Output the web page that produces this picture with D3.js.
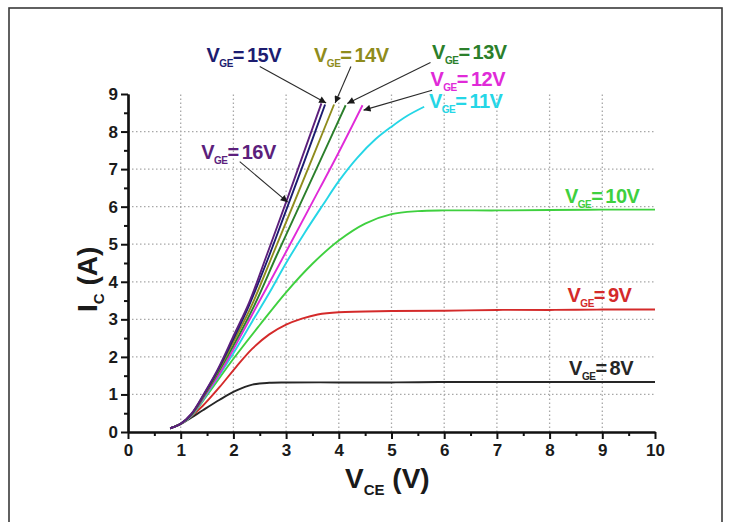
<!DOCTYPE html>
<html>
<head>
<meta charset="utf-8">
<script src="https://cdn.jsdelivr.net/npm/d3@7"></script>
<style>
    body { margin: 0; background: #fff; }
    svg { display: block; font-family: 'Liberation Sans', Arial, sans-serif; }
</style>
</head>
<body>
<div id="chart"></div>
<script>
// gate voltages and the I_C(V_CE) curve read for each one
let gateVoltages = [8, 9, 10, 11, 12, 13, 14, 15, 16];

let curve8 = [[0.8, 0.1], [1.0, 0.21], [1.2, 0.38], [1.42, 0.58], [1.74, 0.86], [2.05, 1.1], [2.36, 1.26],
    [2.68, 1.31], [3.0, 1.32], [4, 1.32], [5, 1.32], [6, 1.33], [7, 1.33], [8, 1.33], [9, 1.33], [10, 1.33]];
let curve9 = [[0.8, 0.1], [1.0, 0.22], [1.2, 0.42], [1.42, 0.7], [1.74, 1.2], [2.05, 1.73], [2.36, 2.22],
    [2.68, 2.6], [3.0, 2.86], [3.3, 3.02], [3.6, 3.13], [4.0, 3.19], [5, 3.22], [6, 3.23], [7, 3.25],
    [8, 3.25], [9, 3.26], [10, 3.26]];
let curve10 = [[0.8, 0.1], [1.0, 0.22], [1.2, 0.42], [1.5, 0.98], [2.0, 1.95], [2.5, 2.85], [3.0, 3.72],
    [3.5, 4.48], [4.0, 5.1], [4.5, 5.55], [5.0, 5.8], [5.5, 5.88], [6, 5.9], [7, 5.9], [8, 5.91],
    [9, 5.92], [10, 5.92]];
let curve11 = [[0.8, 0.1], [1.0, 0.22], [1.2, 0.43], [1.5, 1.02], [2.0, 2.1], [2.36, 2.95], [2.68, 3.7],
    [3.0, 4.5], [3.35, 5.3], [3.7, 6.05], [4.0, 6.68], [4.35, 7.3], [4.7, 7.8], [5.0, 8.13],
    [5.3, 8.42], [5.62, 8.66]];
let curve12 = [[0.8, 0.1], [1.0, 0.22], [1.2, 0.44], [1.5, 1.05], [1.75, 1.58], [2.0, 2.2], [2.5, 3.5],
    [3.0, 4.8], [3.5, 6.12], [4.0, 7.45], [4.45, 8.7]];
let curve13 = [[0.8, 0.1], [1.0, 0.22], [1.2, 0.45], [1.45, 0.98], [1.7, 1.55], [2.0, 2.3], [2.4, 3.38],
    [2.82, 4.7], [3.2, 5.86], [3.65, 7.23], [4.13, 8.7]];
let curve14 = [[0.8, 0.1], [1.0, 0.22], [1.2, 0.46], [1.45, 1.0], [1.7, 1.6], [2.0, 2.4], [2.35, 3.38],
    [2.74, 4.7], [3.1, 5.93], [3.5, 7.3], [3.91, 8.72]];
let curve15 = [[0.8, 0.1], [1.0, 0.22], [1.2, 0.47], [1.45, 1.02], [1.7, 1.63], [2.0, 2.48], [2.3, 3.38],
    [2.68, 4.7], [3.0, 5.9], [3.35, 7.22], [3.74, 8.72]];
let curve16 = [[0.8, 0.1], [1.0, 0.22], [1.2, 0.48], [1.45, 1.04], [1.7, 1.66], [2.0, 2.55], [2.3, 3.45],
    [2.63, 4.7], [3.0, 6.12], [3.3, 7.3], [3.67, 8.75]];

let xTicks = [0, 1, 2, 3, 4, 5, 6, 7, 8, 9, 10];
let yTicks = [0, 1, 2, 3, 4, 5, 6, 7, 8, 9];

// where each label sits and where its arrow points, in data units
let labelSpots = {
    16: { text: [1.39, 7.26], from: [2.12, 7.2], tip: [3.03, 6.12] },
    15: { text: [1.49, 9.84], from: [2.5, 9.73], tip: [3.76, 8.76] },
    14: { text: [3.53, 9.84], from: [4.23, 9.73], tip: [3.93, 8.76] },
    13: { text: [5.77, 9.92], from: [5.74, 9.84], tip: [4.16, 8.75] },
    12: { text: [5.74, 9.21], from: [5.77, 9.1], tip: [4.47, 8.57] },
    11: { text: [5.71, 8.62] },
    10: { text: [8.29, 6.11] },
    9: { text: [8.34, 3.45] },
    8: { text: [8.37, 1.51] },
};

let colors = {
    8: '#262626', 9: '#d42a2a', 10: '#3fd03f', 11: '#25d6e6', 12: '#e02ad8',
    13: '#2b7f2b', 14: '#8f8c1c', 15: '#1c1c70', 16: '#5c1f7c',
};

let curves = { 8: curve8, 9: curve9, 10: curve10, 11: curve11, 12: curve12,
    13: curve13, 14: curve14, 15: curve15, 16: curve16 };

let width = 731;
let height = 522;
let margin = { top: 94, right: 74, bottom: 90, left: 128 };

let svg = d3.select('#chart')
    .append('svg')
    .attr('width', width)
    .attr('height', height);

svg.append('rect')
    .attr('x', 9)
    .attr('y', 8)
    .attr('width', 713)
    .attr('height', 540)
    .attr('fill', 'none')
    .attr('stroke', '#3a3a3a')
    .attr('stroke-width', 1.6);

let xScale = d3.scaleLinear().domain([0, 10]).range([margin.left, width - margin.right - 2]);
let yScale = d3.scaleLinear().domain([0, 9]).range([height - margin.bottom, margin.top]);

svg.append('defs')
    .append('marker')
    .attr('id', 'head')
    .attr('viewBox', '0 0 10 10')
    .attr('refX', 10)
    .attr('refY', 5)
    .attr('markerWidth', 9)
    .attr('markerHeight', 7)
    .attr('markerUnits', 'userSpaceOnUse')
    .attr('orient', 'auto')
    .append('path')
    .attr('d', 'M0,0 L10,5 L0,10 Z')
    .attr('fill', '#1a1a1a');

// dotted grid
let grid = svg.append('g').attr('class', 'grid');

grid.selectAll('line.v')
    .data(xTicks.filter(d => d > 0 && d < 10))
    .join('line')
    .attr('class', 'v')
    .attr('x1', d => xScale(d))
    .attr('x2', d => xScale(d))
    .attr('y1', yScale(0))
    .attr('y2', yScale(9));

grid.selectAll('line.h')
    .data(yTicks.filter(d => d > 0 && d < 9))
    .join('line')
    .attr('class', 'h')
    .attr('x1', xScale(0))
    .attr('x2', xScale(10))
    .attr('y1', d => yScale(d))
    .attr('y2', d => yScale(d));

grid.selectAll('line')
    .attr('stroke', '#a8a8a8')
    .attr('stroke-width', 1.3)
    .attr('stroke-dasharray', '1.5,2.5');

// curves
let line = d3.line()
    .x(d => xScale(d[0]))
    .y(d => yScale(d[1]))
    .curve(d3.curveCatmullRom.alpha(0.5));

svg.append('g')
    .attr('class', 'curves')
    .selectAll('path')
    .data(gateVoltages)
    .join('path')
    .attr('d', v => line(curves[v]))
    .attr('fill', 'none')
    .attr('stroke', v => colors[v])
    .attr('stroke-width', 1.9);

// axes
let xAxis = d3.axisBottom(xScale)
    .tickValues(xTicks)
    .tickSize(7)
    .tickSizeOuter(0)
    .tickPadding(5);

let xMinor = d3.axisBottom(xScale)
    .tickValues(d3.range(0.5, 10, 1))
    .tickSize(4)
    .tickSizeOuter(0)
    .tickFormat('');

let yAxis = d3.axisLeft(yScale)
    .tickValues(yTicks)
    .tickSize(7)
    .tickSizeOuter(0)
    .tickPadding(3);

let yMinor = d3.axisLeft(yScale)
    .tickValues(d3.range(0.5, 9, 1))
    .tickSize(4)
    .tickSizeOuter(0)
    .tickFormat('');

function styleAxis(g) {
    g.select('.domain').attr('stroke', '#111').attr('stroke-width', 2.2);
    g.selectAll('.tick line').attr('stroke', '#111').attr('stroke-width', 2);
    g.selectAll('.tick text')
        .attr('fill', '#1a1a1a')
        .style('font-size', '17px')
        .style('font-weight', 'bold')
        .style('font-family', "'Liberation Sans', Arial, sans-serif");
}

svg.append('g')
    .attr('transform', `translate(0, ${yScale(0)})`)
    .call(xMinor)
    .call(styleAxis);

svg.append('g')
    .attr('transform', `translate(0, ${yScale(0)})`)
    .call(xAxis)
    .call(styleAxis);

svg.append('g')
    .attr('transform', `translate(${xScale(0)}, 0)`)
    .call(yMinor)
    .call(styleAxis);

svg.append('g')
    .attr('transform', `translate(${xScale(0)}, 0)`)
    .call(yAxis)
    .call(styleAxis);

// axis titles
let xTitle = svg.append('text')
    .attr('x', 345)
    .attr('y', 488)
    .attr('fill', '#1a1a1a')
    .style('font-size', '28px')
    .style('font-weight', 'bold');
xTitle.append('tspan').text('V');
xTitle.append('tspan').attr('dy', 7).style('font-size', '15px').text('CE');
xTitle.append('tspan').attr('dy', -7).text(' (V)');

let yTitle = svg.append('text')
    .attr('transform', 'translate(97, 312) rotate(-90)')
    .attr('fill', '#1a1a1a')
    .style('font-size', '28px')
    .style('font-weight', 'bold');
yTitle.append('tspan').text('I');
yTitle.append('tspan').attr('dy', 7).style('font-size', '15px').text('C');
yTitle.append('tspan').attr('dy', -7).text(' (A)');

// V_GE labels and arrows
let notes = svg.append('g').attr('class', 'notes');

gateVoltages.forEach(v => {
    let spot = labelSpots[v];
    if (spot.from) {
        notes.append('line')
            .attr('x1', xScale(spot.from[0]))
            .attr('y1', yScale(spot.from[1]))
            .attr('x2', xScale(spot.tip[0]))
            .attr('y2', yScale(spot.tip[1]))
            .attr('stroke', '#2a2a2a')
            .attr('stroke-width', 1.1)
            .attr('marker-end', 'url(#head)');
    }

    let t = notes.append('text')
        .attr('x', xScale(spot.text[0]))
        .attr('y', yScale(spot.text[1]))
        .attr('fill', colors[v])
        .style('font-size', '20px')
        .style('font-weight', 'bold')
        .style('letter-spacing', '-0.5px');
    t.append('tspan').text('V');
    t.append('tspan').attr('dy', 5).style('font-size', '10px').text('GE');
    t.append('tspan').attr('dy', -5).text('=');
    t.append('tspan').attr('dx', 3).text(`${v}V`);
});
</script>
</body>
</html>
